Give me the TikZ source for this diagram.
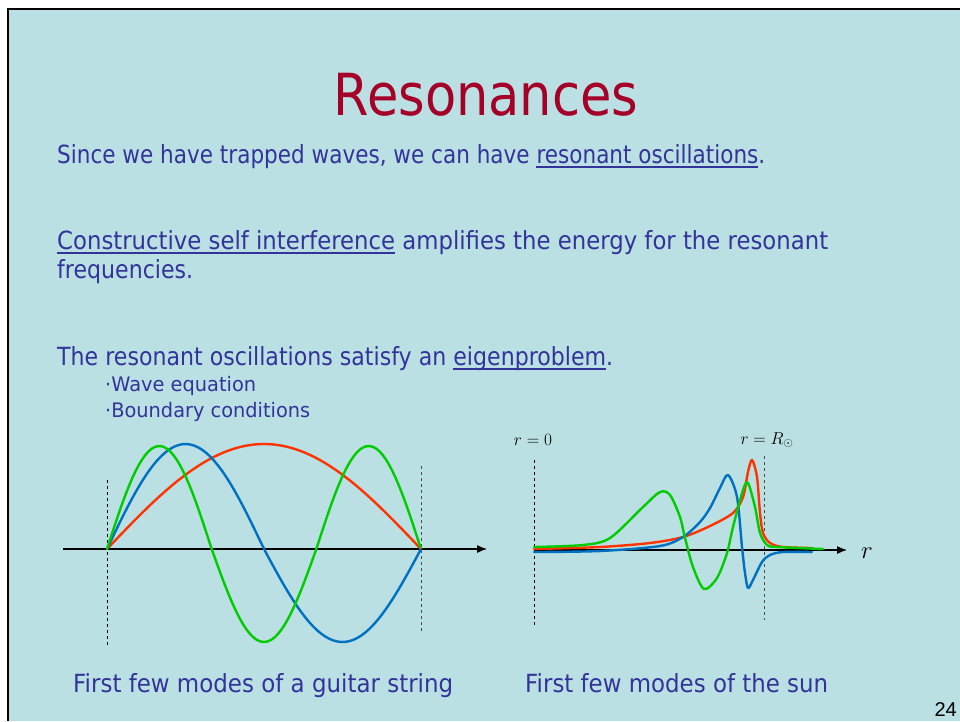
\documentclass[tikz,border=0pt]{standalone}
\usepackage{fontspec}
\setmainfont{DejaVu Sans}[FakeStretch=0.88]
\newfontfamily\pagefont{Liberation Sans}
\newcommand{\ulx}[1]{\vtop{\hbox{\smash{#1}}\kern3pt\hrule height 2pt}}
\newcommand{\fitw}[2]{\resizebox{#1}{\height}{#2}}
\usetikzlibrary{arrows.meta}
\definecolor{slidebg}{HTML}{BAE0E3}
\definecolor{titlered}{HTML}{A50027}
\definecolor{textblue}{HTML}{333399}
\definecolor{modered}{HTML}{FF3300}
\definecolor{modeblue}{HTML}{0070C0}
\definecolor{modegreen}{HTML}{00CC00}
\begin{document}
\begin{tikzpicture}[x=1pt, y=-1pt,
  every node/.style={inner sep=0pt, text=textblue},
  body/.style={font=\fontsize{25}{29}\selectfont, anchor=base west},
  item/.style={font=\fontsize{20}{24}\selectfont, anchor=base west},
  mode/.style={line width=2.4pt, line join=round, line cap=round},
  axis/.style={line width=1.1pt, -{Latex[length=10pt, width=8pt]}},
  wall/.style={dashed, line width=0.8pt},
  rmark/.style={font=\fontsize{18}{18}\selectfont, text=black}]
\useasboundingbox (0,0) rectangle (960,721);
% Slide background and frame
\fill[white] (0,0) rectangle (960,721);
\fill[slidebg] (8,9) rectangle (960,721);
\draw[line width=2.5pt] (8,721) -- (8,9) -- (960,9);
% Title and text
\node[font=\fontsize{58}{62}\selectfont, text=titlered, anchor=base] (title) at (486,115) {Resonances};
\node[body] (trapped) at (57,163) {\fitw{708pt}{Since we have trapped waves, we can have \ulx{resonant oscillations}.}};
\node[body] (constr) at (57,249) {\fitw{771pt}{\ulx{Constructive self interference} amplifies the energy for the resonant}};
\node[body] (freq) at (57,278) {\fitw{136pt}{frequencies.}};
\node[body] (eigen) at (57,365) {\fitw{556pt}{The resonant oscillations satisfy an \ulx{eigenproblem}.}};
\node[item] (waveeq) at (105,391) {\fitw{151pt}{·Wave equation}};
\node[item] (bcond) at (105,417) {\fitw{205pt}{·Boundary conditions}};
% Guitar string
\coordinate (gstart) at (63,549);
\coordinate (gend) at (487,549);
\draw[axis] (gstart) -- (gend);
\draw[wall] (107,480) -- (107,645);
\draw[wall, black!70] (421,466) -- (421,631);
\draw[mode, modered] plot[domain=0:1, samples=80] ({107+314*\x}, {549-105*sin(180*\x)});
\draw[mode, modeblue] plot[domain=0:1, samples=80] ({107+314*\x}, {549-(\x<0.5 ? 105 : 93)*sin(360*\x)});
\draw[mode, modegreen] plot[domain=0:1, samples=100] ({107+314*\x}, {549-(\x<0.3333 ? 103 : (\x>0.6667 ? 103 : 93))*sin(540*\x)});
% Sun
\coordinate (sstart) at (534,550);
\coordinate (send) at (847,550);
\draw[axis] (sstart) -- (send);
\node[font=\fontsize{30}{30}\selectfont, text=black] (rlab) at (867,553) {$r$};
\draw[wall] (534,460) -- (534,625);
\draw[wall, black!70] (764,456) -- (764,620);
\node[rmark] (rzero) at (533,440) {$r=0$};
\node[rmark] (rsun) at (767,440) {$r=R_\odot$};
\draw[mode, modered] plot[smooth, tension=0.5] coordinates {(534,549) (600,547) (650,543) (683,537) (710,526) (733,513) (743,497) (748,472) (752,460) (757,477) (760,513) (763,533) (770,543) (783,547) (812,548)};
\draw[mode, modeblue] plot[smooth, tension=0.5] coordinates {(534,552) (600,551) (660,546) (683,537) (700,522) (710,508) (720,488) (728,475) (737,497) (742,547) (745,573) (748,588) (753,580) (762,562) (770,555) (783,552) (812,552)};
\draw[mode, modegreen] plot[smooth, tension=0.5] coordinates {(534,547) (583,545) (610,538) (643,507) (660,492) (670,495) (680,517) (685,538) (693,567) (704,589) (717,578) (727,553) (733,527) (743,490) (748,483) (755,507) (760,533) (767,545) (777,547) (823,549)};
% Captions
\node[body] (guitarcap) at (73,692) {\fitw{380pt}{First few modes of a guitar string}};
\node[body] (suncap) at (525,692) {\fitw{303pt}{First few modes of the sun}};
\node[font=\pagefont\fontsize{20}{20}\selectfont, text=black, anchor=base east] (pagenum) at (957,716) {24};
\end{tikzpicture}
\end{document}
